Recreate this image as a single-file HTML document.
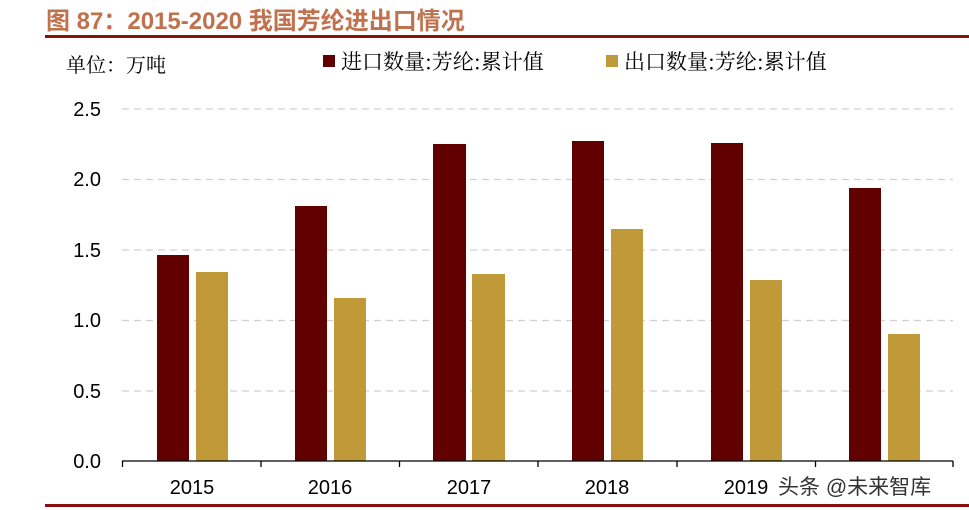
<!DOCTYPE html>
<html><head><meta charset="utf-8"><style>
html,body{margin:0;padding:0;background:#fff;}
svg{display:block;}
text{font-family:"Liberation Sans","Noto Sans CJK SC",sans-serif;}
.s{font-family:"Noto Serif CJK SC","Noto Sans CJK SC",serif;}
</style></head><body>
<svg width="969" height="510" viewBox="0 0 969 510" xmlns="http://www.w3.org/2000/svg">
<text x="46" y="29" font-size="24" font-weight="bold" fill="#c0714d">图 87：2015-2020 我国芳纶进出口情况</text>
<rect x="45" y="35" width="924" height="3" fill="#8b0f0f"/>
<rect x="45" y="504" width="924" height="3" fill="#8b0f0f"/>
<text class="s" x="66" y="72" font-size="20" fill="#000">单位：万吨</text>
<rect x="323" y="55" width="12" height="12" fill="#600000"/>
<text class="s" x="341" y="69" font-size="21" fill="#000">进口数量:芳纶:累计值</text>
<rect x="606" y="55" width="12" height="12" fill="#c09a38"/>
<text class="s" x="624" y="69" font-size="21" fill="#000">出口数量:芳纶:累计值</text>
<g stroke="#d0d0d0" stroke-width="1.3" stroke-dasharray="7,5">
<line x1="122" y1="109" x2="953" y2="109"/><line x1="122" y1="179.5" x2="953" y2="179.5"/><line x1="122" y1="250" x2="953" y2="250"/><line x1="122" y1="320.5" x2="953" y2="320.5"/><line x1="122" y1="391" x2="953" y2="391"/>
</g>
<g font-size="20" fill="#000" text-anchor="end">
<text x="101" y="116">2.5</text><text x="101" y="186">2.0</text><text x="101" y="257">1.5</text><text x="101" y="327">1.0</text><text x="101" y="398">0.5</text><text x="101" y="468">0.0</text>
</g>
<g fill="#600000">
<rect x="157" y="255" width="32" height="206"/><rect x="295" y="206" width="32" height="255"/><rect x="433" y="144" width="33" height="317"/><rect x="572" y="141" width="32" height="320"/><rect x="711" y="143" width="32" height="318"/><rect x="849" y="188" width="32" height="273"/>
</g>
<g fill="#c09a38">
<rect x="196" y="272" width="32" height="189"/><rect x="334" y="298" width="32" height="163"/><rect x="472" y="274" width="33" height="187"/><rect x="611" y="229" width="32" height="232"/><rect x="750" y="280" width="32" height="181"/><rect x="888" y="334" width="32" height="127"/>
</g>
<line x1="122" y1="461" x2="953" y2="461" stroke="#000" stroke-width="1.3"/>
<g stroke="#000" stroke-width="1.3">
<line x1="122.5" y1="461" x2="122.5" y2="467"/><line x1="261" y1="461" x2="261" y2="467"/><line x1="399.5" y1="461" x2="399.5" y2="467"/><line x1="538" y1="461" x2="538" y2="467"/><line x1="677" y1="461" x2="677" y2="467"/><line x1="815.5" y1="461" x2="815.5" y2="467"/><line x1="953" y1="461" x2="953" y2="467"/>
</g>
<g font-size="20" fill="#000" text-anchor="middle">
<text x="192" y="494">2015</text><text x="330" y="494">2016</text><text x="469" y="494">2017</text><text x="607" y="494">2018</text><text x="746" y="494">2019</text>
</g>
<text x="778" y="494" font-size="21" fill="#333">头条 @未来智库</text>
</svg>
</body></html>
